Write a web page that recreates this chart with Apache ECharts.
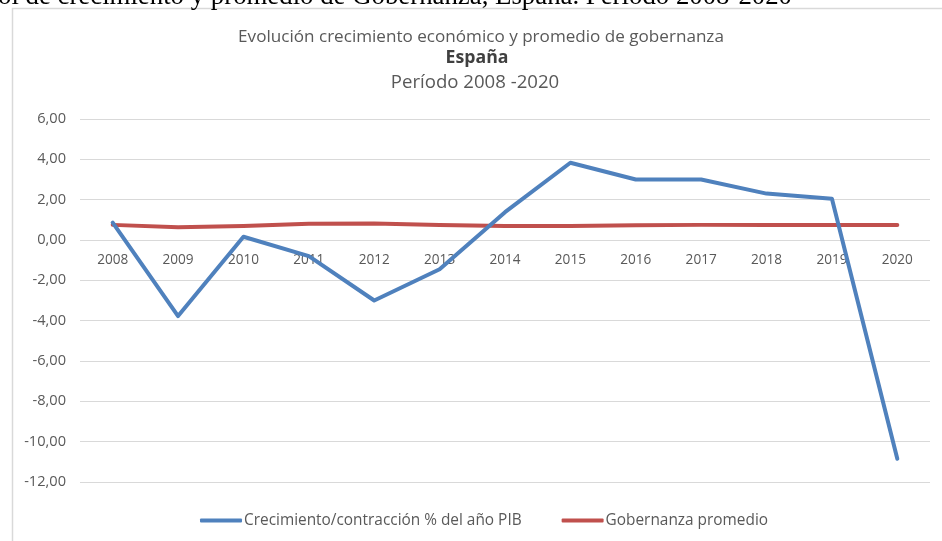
<!DOCTYPE html>
<html><head><meta charset="utf-8">
<script src="https://cdn.jsdelivr.net/npm/echarts@6/dist/echarts.min.js"></script>
<style>html,body{margin:0;padding:0;background:#fff}#c{width:942px;height:541px}</style>
</head><body><div id="c"></div>
<script>
const years = ['2008','2009','2010','2011','2012','2013','2014','2015','2016','2017','2018','2019','2020'];
const crecimiento = [0.86, -3.77, 0.16, -0.8, -3.0, -1.45, 1.38, 3.83, 3.0, 3.0, 2.3, 2.05, -10.85];
const gobernanza = [0.75, 0.63, 0.70, 0.80, 0.82, 0.74, 0.70, 0.70, 0.73, 0.75, 0.75, 0.75, 0.75];
const seriesNames = ['Crecimiento/contracción % del año PIB', 'Gobernanza promedio'];
const titleLines = ['Evolución crecimiento económico y promedio de gobernanza', 'España', 'Período 2008 -2020'];
const caption = 'ol de crecimiento y promedio de Gobernanza, España. Período 2008-2020';

const FAM = '"Open Sans", sans-serif';
const SERIF = '"Liberation Serif", serif';
const ctx = document.createElement('canvas').getContext('2d');
function fit(text, family, weight, target) {
  ctx.font = weight + ' 100px ' + family;
  return Math.round(100 * target / ctx.measureText(text).width * 10) / 10;
}
const fsT1 = fit(titleLines[0], FAM, 'normal', 487);
const fsT2 = fit(titleLines[1], FAM, 'bold', 63);
const fsT3 = fit(titleLines[2], FAM, 'normal', 168);
const fsCap = fit(caption, SERIF, 'normal', 795);
const fsLeg = fit(seriesNames[0], FAM, 'normal', 278);
const fsY = fit('-12,00', FAM, 'normal', 42);
const fsX = fit('2008', FAM, 'normal', 31);

// labels for the category axis, placed on the zero line through the library's scales
const yearLabelPoints = years.map(y => [y, 0]);

const chart = echarts.init(document.getElementById('c'), null, {renderer: 'canvas'});
chart.setOption({
  animation: false,
  backgroundColor: '#fff',
  textStyle: {fontFamily: FAM, color: '#595959'},
  graphic: [
    {type: 'rect', shape: {x: 12.5, y: 8.5, width: 1000, height: 600}, style: {fill: 'none', stroke: '#d9d9d9', lineWidth: 1.5}, silent: true, z: 0},
    {type: 'text', x: -2, y: -17, style: {text: caption, fontFamily: SERIF, fontSize: fsCap, fill: '#000', verticalAlign: 'top'}},
    {type: 'text', x: 481, y: 37, style: {text: titleLines[0], fontFamily: FAM, fontSize: fsT1, fill: '#595959', align: 'center', verticalAlign: 'middle'}},
    {type: 'text', x: 477, y: 58, style: {text: titleLines[1], fontFamily: FAM, fontWeight: 'bold', fontSize: fsT2, fill: '#404040', align: 'center', verticalAlign: 'middle'}},
    {type: 'text', x: 475, y: 83, style: {text: titleLines[2], fontFamily: FAM, fontSize: fsT3, fill: '#595959', align: 'center', verticalAlign: 'middle'}}
  ],
  legend: {
    left: 200, top: 513, orient: 'horizontal',
    itemWidth: 42, itemHeight: 4, itemGap: 40,
    icon: 'roundRect',
    padding: 0,
    textStyle: {fontFamily: FAM, fontSize: fsLeg, color: '#595959', padding: [0, 0, 0, -3]},
    data: seriesNames
  },
  grid: {left: 80, right: 12, top: 119, bottom: 59},
  xAxis: {
    type: 'category', data: years, boundaryGap: true,
    axisLine: {show: false},
    axisTick: {show: false},
    axisLabel: {show: false}
  },
  yAxis: {
    type: 'value', min: -12, max: 6, interval: 2,
    axisLine: {show: false}, axisTick: {show: false},
    splitLine: {lineStyle: {color: '#d9d9d9', width: 1}},
    axisLabel: {fontFamily: FAM, fontSize: fsY, color: '#595959', margin: 14,
      formatter: v => v.toFixed(2).replace('.', ',')}
  },
  series: [
    {name: 'ejeX', type: 'scatter', data: yearLabelPoints, symbolSize: 1, silent: true, z: 1,
      itemStyle: {color: 'rgba(0,0,0,0)'},
      label: {show: true, position: 'bottom', distance: 13, formatter: p => p.value[0],
        fontFamily: FAM, fontSize: fsX, color: '#595959', opacity: 1}},
    {name: seriesNames[0], type: 'line', data: crecimiento, symbol: 'none', z: 3,
      lineStyle: {color: '#4f81bd', width: 4, cap: 'round', join: 'round'}, itemStyle: {color: '#4f81bd'}},
    {name: seriesNames[1], type: 'line', data: gobernanza, symbol: 'none', z: 2,
      lineStyle: {color: '#c0504d', width: 4, cap: 'round', join: 'round'}, itemStyle: {color: '#c0504d'}}
  ]
});
</script></body></html>
